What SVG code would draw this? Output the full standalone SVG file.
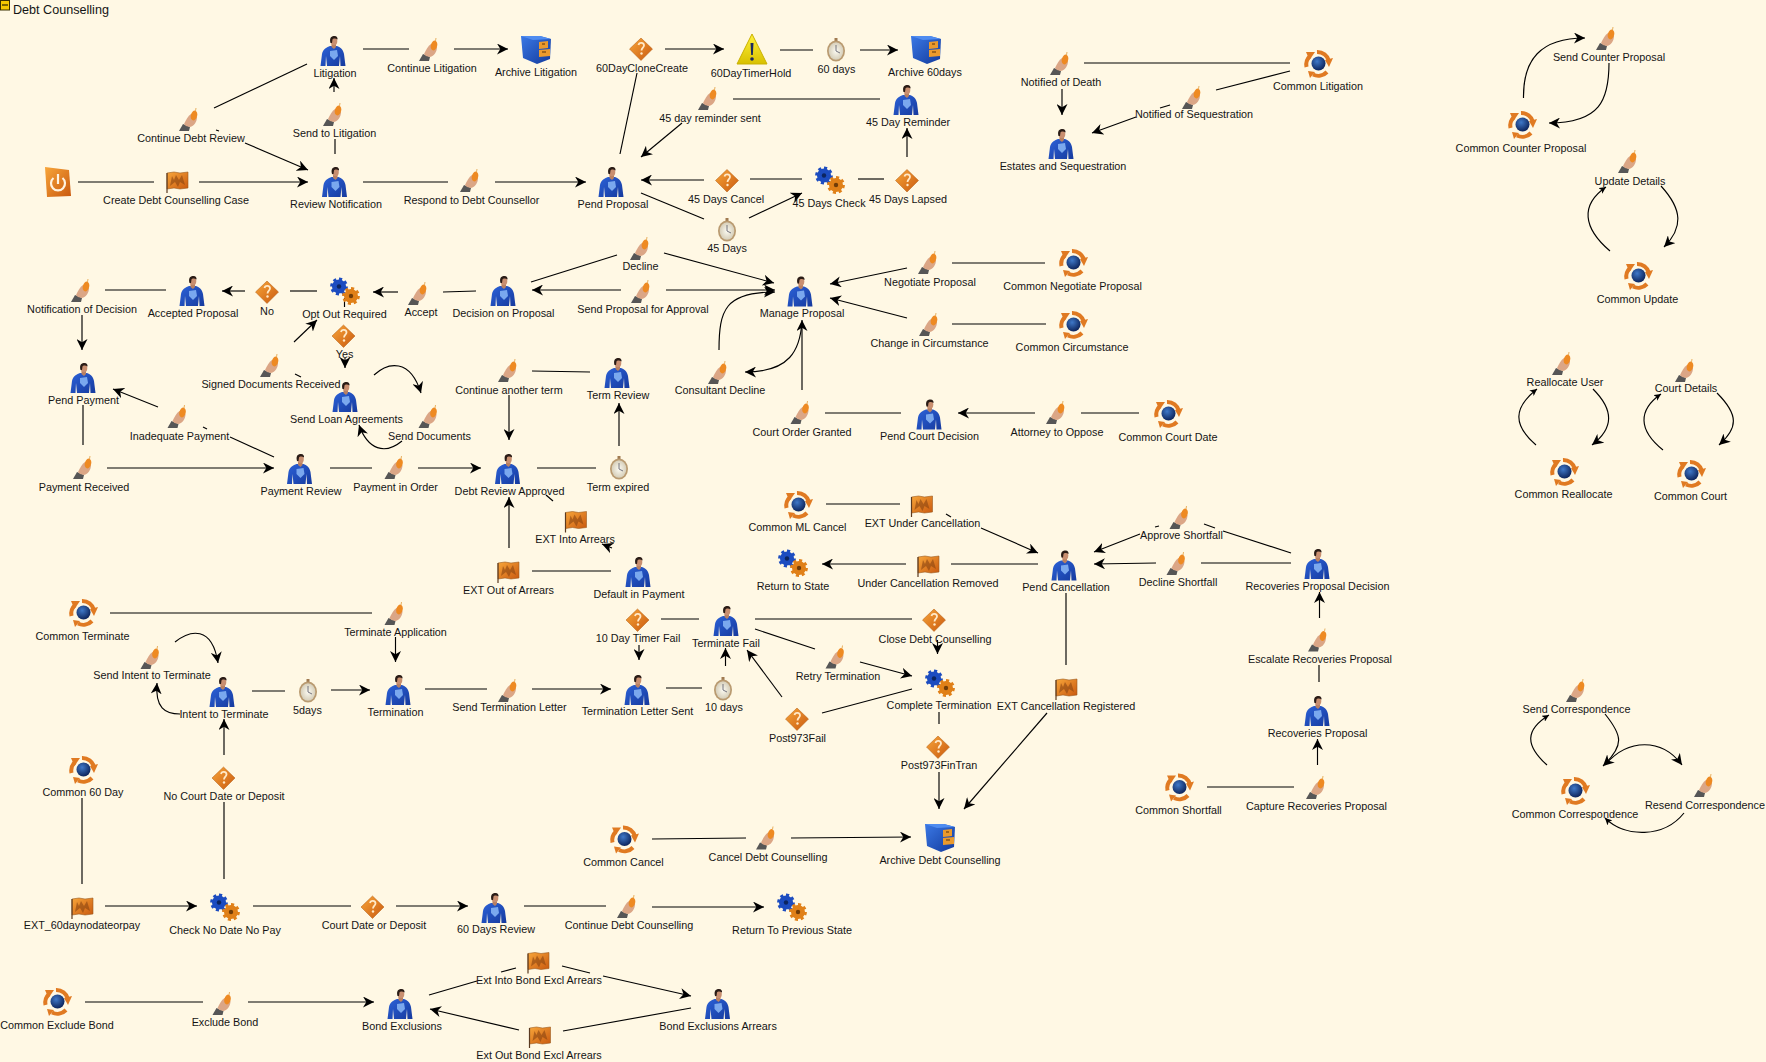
<svg xmlns="http://www.w3.org/2000/svg" width="1766" height="1062" viewBox="0 0 1766 1062">
<style>
text{font-family:"Liberation Sans",Arial,sans-serif;font-size:10.8px;fill:#141414;text-anchor:middle}
.title{font-size:12.6px;text-anchor:start}
.c{fill:none;stroke:#000;stroke-width:1.15}
.a{marker-end:url(#ah)}
.s{marker-end:url(#as)}
</style>
<defs>
<marker id="ah" markerUnits="userSpaceOnUse" markerWidth="11" markerHeight="11" refX="10" refY="5" orient="auto" viewBox="0 0 10 10"><path d="M10 5L0 0L3 5L0 10Z" fill="#000"/></marker>
<marker id="as" markerUnits="userSpaceOnUse" markerWidth="7" markerHeight="7" refX="6" refY="3" orient="auto" viewBox="0 0 6 6"><path d="M6 3L0 0L1.500 3L0 6Z" fill="#000"/></marker>
<linearGradient id="gShirt" x1="0" y1="0" x2="1" y2="1"><stop offset="0" stop-color="#2c62d8"/><stop offset="1" stop-color="#163a9e"/></linearGradient>
<linearGradient id="gOr" x1="0" y1="0" x2="1" y2="1"><stop offset="0" stop-color="#f8a63a"/><stop offset="1" stop-color="#c9590f"/></linearGradient>
<linearGradient id="gYel" x1="0" y1="0" x2="0" y2="1"><stop offset="0" stop-color="#fff23c"/><stop offset="1" stop-color="#d8c000"/></linearGradient>
<linearGradient id="gBlue" x1="0" y1="0" x2="1" y2="1"><stop offset="0" stop-color="#3b79e6"/><stop offset="1" stop-color="#123a9c"/></linearGradient>
<radialGradient id="gGlobe" cx="0.4" cy="0.35" r="0.7"><stop offset="0" stop-color="#3f78c8"/><stop offset="1" stop-color="#0a1f55"/></radialGradient>
<radialGradient id="gFace" cx="0.5" cy="0.5" r="0.6"><stop offset="0" stop-color="#fbfaf2"/><stop offset="1" stop-color="#cfc6ae"/></radialGradient>
<symbol id="person" overflow="visible">
<path d="M-12.500 15L-11 3C-10 -2 -6 -4 -3 -5L4 -5C7 -4 10 -2 11 3L12.500 15L7.500 15L7 5L6 15L-6 15L-7 5L-7.500 15Z" fill="url(#gShirt)"/>
<path d="M-3 0L4 -1L5 5L1 9L-3 5Z" fill="#7aa8ee"/>
<path d="M-1.500 -7L3 -7L3 -4L1 -2L-1.500 -4Z" fill="#b88062"/>
<ellipse cx="1" cy="-10" rx="3.300" ry="4.300" fill="#c98f70"/>
<path d="M-2.500 -8C-4 -14 -1 -15 1.500 -15C4 -15 4.800 -13 4.500 -11.500C2.500 -13 0 -12.500 -0.500 -11.500L-1 -8Z" fill="#2a1c16"/>
</symbol>
<symbol id="hand" overflow="visible">
<path d="M-10 11L-6 4L1 7L0 11Z" fill="#565656"/>
<path d="M-5 4C-3 0 -1 -4 2 -6L8 -3C8 2 5 6 1 7L-3 6Z" fill="#dba686"/>
<ellipse cx="5" cy="-4.500" rx="3.200" ry="5" fill="#ee8a22" transform="rotate(15 5 -4.500)"/>
<path d="M6.500 -9L7 -12" stroke="#e8b060" stroke-width="1" fill="none"/>
</symbol>
<symbol id="flag" overflow="visible">
<path d="M-10 -9L-3 -10L3 -9L11 -10L11 6L3 7L-3 6L-10 7Z" fill="url(#gOr)" stroke="#9a5a20" stroke-width=".6"/>
<path d="M-7 4L-5 -6L-3 -2L-1 -7L2 -2L5 -7L8 3L3 0L1 5L-2 0Z" fill="#8a4410" opacity=".6"/>
<path d="M-10 -9V11" stroke="#5a3a20" stroke-width="1.200" fill="none"/>
</symbol>
<symbol id="diamond" overflow="visible">
<path d="M0 -11L11.500 0L0 11.500L-11.500 0Z" fill="url(#gOr)" stroke="#b05a10" stroke-width=".5"/>
<path d="M-2.500 -4C-2 -7 3 -7 3 -3.500C3 -1.500 0.500 -1 0.500 1.500" fill="none" stroke="#ffe9c8" stroke-width="1.800"/>
<circle cx="0.500" cy="4.500" r="1.200" fill="#ffe9c8"/>
</symbol>
<symbol id="gears" overflow="visible">
<circle cx="-6" cy="-4.500" r="7" fill="#1c4cc0"/>
<circle cx="-6" cy="-4.500" r="7.300" fill="none" stroke="#1c4cc0" stroke-width="3.200" stroke-dasharray="3 2.700"/>
<circle cx="-6" cy="-4.500" r="2.200" fill="#0c2560"/>
<circle cx="6" cy="5" r="7" fill="#e08018"/>
<circle cx="6" cy="5" r="7.300" fill="none" stroke="#e08018" stroke-width="3.200" stroke-dasharray="3 2.700"/>
<circle cx="6" cy="5" r="2.200" fill="#703c08"/>
</symbol>
<symbol id="timer" overflow="visible">
<rect x="-1.500" y="-12" width="3" height="3" fill="#a07a50"/>
<ellipse cx="0" cy="1" rx="9" ry="10.500" fill="#b99a70"/>
<ellipse cx="0" cy="1" rx="7.300" ry="8.800" fill="url(#gFace)"/>
<path d="M0 1L0 -5M0 1L4 3" stroke="#556" stroke-width=".8" fill="none"/>
</symbol>
<symbol id="common" overflow="visible">
<path d="M-11.500 3A12 12 0 0 1 -8 -8" fill="none" stroke="#e07a22" stroke-width="4"/>
<path d="M-12 -12L-3 -12L-8.500 -4Z" fill="#e07a22"/>
<path d="M-1 -12A12 12 0 0 1 11 -3" fill="none" stroke="#e07a22" stroke-width="4"/>
<path d="M15 -6L7 -4L11 3Z" fill="#e07a22"/>
<path d="M9 8A12 12 0 0 1 -5 10.500" fill="none" stroke="#e07a22" stroke-width="4"/>
<path d="M-10 7L-8 14L-3 8Z" fill="#e07a22"/>
<circle cx="0.500" cy="-0.500" r="7" fill="url(#gGlobe)"/>
</symbol>
<symbol id="archive" overflow="visible">
<path d="M-15 -14L4 -14L15 -11L14 9L1 14L-13 8Z" fill="url(#gBlue)"/>
<path d="M-15 -14L4 -14L15 -11L-3 -10Z" fill="#4f8cf0"/>
<path d="M3 -8L12 -9L12 -2L3 -1Z" fill="#eb9a2c"/>
<path d="M3 0L14 -1L14 6L3 7Z" fill="#eb9a2c"/>
<path d="M6 -6L9 -6M6 2L10 2" stroke="#5a3008" stroke-width="1" fill="none"/>
</symbol>
<symbol id="warn" overflow="visible">
<path d="M0 -15L15 15L-15 15Z" fill="url(#gYel)" stroke="#c9b000" stroke-width="1" stroke-linejoin="round"/>
<path d="M-1.500 -6L1.500 -6L0.800 6L-0.800 6Z" fill="#1a2a60"/>
<circle cx="0" cy="10" r="1.800" fill="#1a2a60"/>
</symbol>
<symbol id="startIcon" overflow="visible">
<path d="M-13 -15L11 -12L13 14L-11 15Z" fill="url(#gOr)"/>
<path d="M-4.500 -4A7 7 0 1 0 4.500 -4" fill="none" stroke="#fff3e0" stroke-width="2.200"/>
<path d="M0 -8V2" stroke="#fff3e0" stroke-width="2.200" fill="none"/>
</symbol>
</defs>
<rect width="1766" height="1062" fill="#fff8e4"/>
<g id="frame"><rect x="0.500" y="0.500" width="9" height="9.500" fill="#f5c800" stroke="#3a3000"/><path d="M2 5H8" stroke="#000" fill="none"/><text class="title" x="13" y="14">Debt Counselling</text></g>
<g id="connectors">
<path class="c" d="M214 108L307 64"/>
<path class="c a" d="M245 143L308 170"/><path class="c" d="M216 130L219 131"/>
<path class="c" d="M335 154V139"/><path class="c a" d="M334 92V78"/>
<path class="c" d="M363 49H409"/><path class="c a" d="M454 49H508"/>
<path class="c" d="M78 182H154"/><path class="c a" d="M199 182H308"/>
<path class="c" d="M363 182H448"/><path class="c a" d="M495 182H586"/>
<path class="c" d="M476 291L443 292"/><path class="c a" d="M398 292H373"/>
<path class="c" d="M317 291H290"/><path class="c a" d="M245 291H222"/>
<path class="c" d="M166 290H105"/><path class="c a" d="M82 315V350"/>
<path class="c a" d="M294 342L317 320"/><path class="c" d="M344.500 298V307"/>
<path class="c" d="M617 255L531 282"/><path class="c a" d="M621 290H532"/>
<path class="c" d="M620 154L637 73"/><path class="c a" d="M665 49H724"/>
<path class="c" d="M780 50H813"/><path class="c a" d="M860 50H898"/>
<path class="c" d="M880 99H733"/><path class="c a" d="M682 123L641 157"/>
<path class="c a" d="M907 157V128"/><path class="c" d="M884 179H858"/>
<path class="c" d="M802 179H750"/><path class="c a" d="M704 180H641"/>
<path class="c" d="M641 193L704 219"/><path class="c a" d="M749 218L802 193"/>
<path class="c a" d="M664 253L774 283"/><path class="c a" d="M666 290H775"/>
<path class="c a" d="M719 350C719 310 725 292 775 292"/>
<path class="c a" d="M907 268L830 284"/><path class="c" d="M1045 263H952"/>
<path class="c a" d="M907 318L830 298"/><path class="c" d="M1046 324H952"/>
<path class="c a" d="M1062 89V115"/><path class="c" d="M1084 63H1290"/>
<path class="c" d="M1290 71L1216 90"/><path class="c" d="M1170 105L1160 108"/><path class="c a" d="M1136 117L1092 133"/>
<path class="c a" d="M1523.500 98C1523 60 1540 38 1585 38"/>
<path class="c a" d="M1609 63C1609 100 1600 123 1549 123"/>
<path class="c s" d="M1610 251C1583 228 1580 205 1606 187"/>
<path class="c a" d="M1661 186C1683 210 1683 228 1664 247"/>
<path class="c s" d="M1536 445C1513 425 1513 408 1537 389"/>
<path class="c a" d="M1593 389C1614 410 1614 428 1592 445"/>
<path class="c s" d="M1663 450C1638 430 1638 410 1661 394"/>
<path class="c a" d="M1717 393C1739 415 1738 428 1719 445"/>
<path class="c" d="M83 405V445"/><path class="c a" d="M158 407L113 389"/>
<path class="c" d="M274 457L230 437"/><path class="c" d="M203 427L207 429"/>
<path class="c a" d="M107 468H274"/><path class="c" d="M330 468H372"/><path class="c a" d="M418 468H481"/>
<path class="c a" d="M374 375C388 362 410 358 421 393"/>
<path class="c a" d="M402 441C385 455 368 450 359 425"/>
<path class="c" d="M295 374L301 377"/>
<path class="c a" d="M345 358V368"/>
<path class="c" d="M590 372L532 371"/><path class="c a" d="M509 395V440"/>
<path class="c a" d="M619 446V403"/><path class="c" d="M537 468H596"/>
<path class="c a" d="M509 548V497"/><path class="c" d="M611 571H532"/>
<path class="c a" d="M612 548L602 544"/><path class="c" d="M553 501L546 495"/>
<path class="c" d="M110 613H372"/><path class="c a" d="M395.500 637V662"/>
<path class="c a" d="M175 642C190 630 212 625 218 663"/>
<path class="c a" d="M180 714C165 714 155 708 157 683"/>
<path class="c" d="M252 691H285"/><path class="c a" d="M331 690H370"/>
<path class="c" d="M425 689H487"/><path class="c a" d="M532 689H611"/>
<path class="c a" d="M639 645V660"/>
<path class="c a" d="M802 322C800 350 790 372 745 372"/>
<path class="c a" d="M802 390V320"/>
<path class="c" d="M901 413H825"/><path class="c a" d="M1035 413H958"/><path class="c" d="M1139 413H1081"/>
<path class="c" d="M826 504H900"/><path class="c a" d="M981 528L1038 553"/><path class="c" d="M946 514L951 517"/>
<path class="c" d="M1038 564H951"/><path class="c a" d="M906 564H822"/>
<path class="c" d="M1066 593V665"/>
<path class="c" d="M661 619H699"/><path class="c" d="M755 619H912"/>
<path class="c a" d="M937.500 640V654"/>
<path class="c" d="M755 629L815 649"/>
<path class="c a" d="M860 662L912 676"/>
<path class="c a" d="M782 697L747 650"/>
<path class="c a" d="M725.500 666V648"/>
<path class="c" d="M666 688H702"/>
<path class="c" d="M822 713L912 689"/>
<path class="c" d="M939 712V724"/>
<path class="c a" d="M939 772V809"/>
<path class="c a" d="M1047 713L964 809"/>
<path class="c" d="M652 839L746 838"/><path class="c a" d="M791 838L911 837"/>
<path class="c" d="M524 906H606"/><path class="c a" d="M652 907H764"/>
<path class="c" d="M562 966L590 973"/><path class="c a" d="M603 976L691 996"/>
<path class="c" d="M691 1008L563 1031"/>
<path class="c a" d="M519 1030L430 1009"/>
<path class="c" d="M429 995L477 981"/><path class="c" d="M501 972L516 968"/>
<path class="c" d="M1291 553L1223 531"/><path class="c" d="M1204 524L1215 528"/>
<path class="c a" d="M1140 534L1094 552"/><path class="c" d="M1155 527L1159 526"/>
<path class="c" d="M1291 563H1201"/><path class="c a" d="M1156 563L1094 564"/>
<path class="c a" d="M1319.500 618V592"/><path class="c" d="M1319 682V665"/>
<path class="c a" d="M1317.500 765V739"/><path class="c" d="M1207 787H1294"/>
<path class="c s" d="M1547 765C1525 745 1525 730 1549 715"/>
<path class="c a" d="M1605 714C1622 735 1625 745 1603 766"/>
<path class="c a" d="M1605 765C1628 738 1662 738 1682 765"/>
<path class="c s" d="M1684 813C1664 838 1625 838 1605 818"/>
<path class="c" d="M82 798V884"/><path class="c a" d="M105 906H197"/>
<path class="c" d="M224 879V802"/><path class="c a" d="M224 755V719"/>
<path class="c" d="M253 906H351"/><path class="c a" d="M396 906H468"/>
<path class="c" d="M85 1002H203"/><path class="c a" d="M248 1002H374"/>
</g>
<g id="litigation"><use href="#person" x="333" y="51"/><text x="335" y="77">Litigation</text></g>
<g id="continue-litigation"><use href="#hand" x="429" y="50"/><text x="432" y="72">Continue Litigation</text></g>
<g id="archive-litigation"><use href="#archive" x="536" y="50"/><text x="536" y="76">Archive Litigation</text></g>
<g id="continue-debt-review"><use href="#hand" x="189" y="120"/><text x="191" y="142">Continue Debt Review</text></g>
<g id="send-to-litigation"><use href="#hand" x="333" y="115"/><text x="334.500" y="137">Send to Litigation</text></g>
<g id="start-node"><use href="#startIcon" x="58" y="182"/></g>
<g id="create-case"><use href="#flag" x="177" y="182"/><text x="176" y="204">Create Debt Counselling Case</text></g>
<g id="review-notification"><use href="#person" x="334.500" y="182"/><text x="336" y="208">Review Notification</text></g>
<g id="respond"><use href="#hand" x="470" y="181"/><text x="471.500" y="204">Respond to Debt Counsellor</text></g>
<g id="notification-decision"><use href="#hand" x="81" y="291"/><text x="82" y="313">Notification of Decision</text></g>
<g id="accepted-proposal"><use href="#person" x="192" y="291"/><text x="193" y="317">Accepted Proposal</text></g>
<g id="no"><use href="#diamond" x="267" y="292"/><text x="267" y="315">No</text></g>
<g id="opt-out"><use href="#gears" x="345" y="291"/><text x="344.500" y="318">Opt Out Required</text></g>
<g id="accept"><use href="#hand" x="418" y="294"/><text x="421" y="316">Accept</text></g>
<g id="decision-on-proposal"><use href="#person" x="503" y="291"/><text x="503.500" y="317">Decision on Proposal</text></g>
<g id="clone-create"><use href="#diamond" x="641" y="49"/><text x="642" y="72">60DayCloneCreate</text></g>
<g id="timer-hold"><use href="#warn" x="752" y="49"/><text x="751" y="77">60DayTimerHold</text></g>
<g id="t60days"><use href="#timer" x="836" y="50"/><text x="836.500" y="73">60 days</text></g>
<g id="archive-60days"><use href="#archive" x="926" y="50"/><text x="925" y="76">Archive 60days</text></g>
<g id="reminder-sent"><use href="#hand" x="708" y="99"/><text x="710" y="122">45 day reminder sent</text></g>
<g id="day-reminder"><use href="#person" x="906" y="100"/><text x="908" y="126">45 Day Reminder</text></g>
<g id="pend-proposal"><use href="#person" x="611" y="182"/><text x="613" y="208">Pend Proposal</text></g>
<g id="days-cancel"><use href="#diamond" x="727" y="180.500"/><text x="726" y="203">45 Days Cancel</text></g>
<g id="days-check"><use href="#gears" x="830" y="180"/><text x="829" y="207">45 Days Check</text></g>
<g id="days-lapsed"><use href="#diamond" x="907" y="180.500"/><text x="908" y="203">45 Days Lapsed</text></g>
<g id="t45days"><use href="#timer" x="727" y="230"/><text x="727" y="252">45 Days</text></g>
<g id="decline"><use href="#hand" x="640" y="249"/><text x="640.500" y="270">Decline</text></g>
<g id="send-proposal"><use href="#hand" x="641" y="292"/><text x="643" y="313">Send Proposal for Approval</text></g>
<g id="manage-proposal"><use href="#person" x="800" y="291.500"/><text x="802" y="317">Manage Proposal</text></g>
<g id="negotiate-proposal"><use href="#hand" x="928" y="263"/><text x="930" y="286">Negotiate Proposal</text></g>
<g id="common-negotiate"><use href="#common" x="1073" y="263"/><text x="1072.500" y="290">Common Negotiate Proposal</text></g>
<g id="change-circumstance"><use href="#hand" x="929" y="325"/><text x="929.500" y="347">Change in Circumstance</text></g>
<g id="common-circumstance"><use href="#common" x="1073" y="325"/><text x="1072" y="351">Common Circumstance</text></g>
<g id="notified-death"><use href="#hand" x="1060" y="64"/><text x="1061" y="86">Notified of Death</text></g>
<g id="notified-seq"><use href="#hand" x="1192" y="98"/><text x="1194" y="118">Notified of Sequestration</text></g>
<g id="estates"><use href="#person" x="1061" y="144"/><text x="1063" y="170">Estates and Sequestration</text></g>
<g id="common-litigation"><use href="#common" x="1318" y="64"/><text x="1318" y="90">Common Litigation</text></g>
<g id="send-counter"><use href="#hand" x="1606" y="39"/><text x="1609" y="61">Send Counter Proposal</text></g>
<g id="common-counter"><use href="#common" x="1522" y="125"/><text x="1521" y="152">Common Counter Proposal</text></g>
<g id="update-details"><use href="#hand" x="1628" y="162"/><text x="1630" y="185">Update Details</text></g>
<g id="common-update"><use href="#common" x="1638" y="276"/><text x="1637.500" y="303">Common Update</text></g>
<g id="reallocate-user"><use href="#hand" x="1562" y="364"/><text x="1565" y="386">Reallocate User</text></g>
<g id="common-reallocate"><use href="#common" x="1564" y="472"/><text x="1563.500" y="498">Common Reallocate</text></g>
<g id="court-details"><use href="#hand" x="1685" y="371"/><text x="1686" y="392">Court Details</text></g>
<g id="common-court"><use href="#common" x="1691" y="474"/><text x="1690.500" y="500">Common Court</text></g>
<g id="pend-payment"><use href="#person" x="83" y="378"/><text x="83.500" y="404">Pend Payment</text></g>
<g id="yes"><use href="#diamond" x="343.500" y="336"/><text x="344.500" y="358">Yes</text></g>
<g id="signed-docs"><use href="#hand" x="270" y="366"/><text x="271" y="388">Signed Documents Received</text></g>
<g id="send-loan"><use href="#person" x="345" y="397"/><text x="346.500" y="423">Send Loan Agreements</text></g>
<g id="send-documents"><use href="#hand" x="428.500" y="417"/><text x="429.500" y="440">Send Documents</text></g>
<g id="continue-term"><use href="#hand" x="508" y="371"/><text x="509" y="394">Continue another term</text></g>
<g id="term-review"><use href="#person" x="617" y="373"/><text x="618" y="399">Term Review</text></g>
<g id="inadequate"><use href="#hand" x="177.500" y="417"/><text x="179.500" y="440">Inadequate Payment</text></g>
<g id="payment-received"><use href="#hand" x="83" y="468"/><text x="84" y="491">Payment Received</text></g>
<g id="payment-review"><use href="#person" x="299.500" y="469"/><text x="301" y="495">Payment Review</text></g>
<g id="payment-order"><use href="#hand" x="394.500" y="468"/><text x="395.500" y="491">Payment in Order</text></g>
<g id="debt-review"><use href="#person" x="507.500" y="469"/><text x="509.500" y="495">Debt Review Approved</text></g>
<g id="term-expired"><use href="#timer" x="619" y="468"/><text x="618" y="491">Term expired</text></g>
<g id="ext-into"><use href="#flag" x="575.500" y="521.500"/><text x="575" y="543">EXT Into Arrears</text></g>
<g id="ext-out"><use href="#flag" x="508" y="572"/><text x="508.500" y="594">EXT Out of Arrears</text></g>
<g id="default-payment"><use href="#person" x="638" y="572"/><text x="639" y="598">Default in Payment</text></g>
<g id="timer-fail"><use href="#diamond" x="637.500" y="620"/><text x="638" y="642">10 Day Timer Fail</text></g>
<g id="common-terminate"><use href="#common" x="83" y="613"/><text x="82.500" y="640">Common Terminate</text></g>
<g id="terminate-app"><use href="#hand" x="394.500" y="614"/><text x="395.500" y="636">Terminate Application</text></g>
<g id="send-intent"><use href="#hand" x="150.500" y="658"/><text x="152" y="679">Send Intent to Terminate</text></g>
<g id="intent"><use href="#person" x="222" y="692"/><text x="224" y="718">Intent to Terminate</text></g>
<g id="t5days"><use href="#timer" x="308" y="691"/><text x="307.500" y="714">5days</text></g>
<g id="termination"><use href="#person" x="398" y="690"/><text x="395.500" y="716">Termination</text></g>
<g id="send-letter"><use href="#hand" x="508" y="691"/><text x="509.500" y="711">Send Termination Letter</text></g>
<g id="letter-sent"><use href="#person" x="637" y="690"/><text x="637.500" y="715">Termination Letter Sent</text></g>
<g id="consultant-decline"><use href="#hand" x="718" y="373"/><text x="720" y="394">Consultant Decline</text></g>
<g id="court-order"><use href="#hand" x="800.500" y="413"/><text x="802" y="436">Court Order Granted</text></g>
<g id="pend-court"><use href="#person" x="929" y="414.500"/><text x="929.500" y="440">Pend Court Decision</text></g>
<g id="attorney"><use href="#hand" x="1056" y="413"/><text x="1057" y="436">Attorney to Oppose</text></g>
<g id="common-court-date"><use href="#common" x="1168" y="414"/><text x="1168" y="441">Common Court Date</text></g>
<g id="common-ml"><use href="#common" x="798" y="505"/><text x="797.500" y="531">Common ML Cancel</text></g>
<g id="ext-under"><use href="#flag" x="921.500" y="506"/><text x="922.500" y="527">EXT Under Cancellation</text></g>
<g id="return-state"><use href="#gears" x="793" y="563"/><text x="793" y="590">Return to State</text></g>
<g id="under-removed"><use href="#flag" x="928" y="566"/><text x="928" y="587">Under Cancellation Removed</text></g>
<g id="pend-cancellation"><use href="#person" x="1064" y="565.500"/><text x="1066" y="591">Pend Cancellation</text></g>
<g id="approve-shortfall"><use href="#hand" x="1179.500" y="518"/><text x="1181.500" y="539">Approve Shortfall</text></g>
<g id="decline-shortfall"><use href="#hand" x="1176.500" y="564"/><text x="1178" y="586">Decline Shortfall</text></g>
<g id="rec-decision"><use href="#person" x="1317" y="564"/><text x="1317.500" y="590">Recoveries Proposal Decision</text></g>
<g id="escalate"><use href="#hand" x="1318" y="640.500"/><text x="1320" y="663">Escalate Recoveries Proposal</text></g>
<g id="rec-proposal"><use href="#person" x="1317" y="711"/><text x="1317.500" y="737">Recoveries Proposal</text></g>
<g id="capture"><use href="#hand" x="1316" y="788"/><text x="1316.500" y="810">Capture Recoveries Proposal</text></g>
<g id="common-shortfall"><use href="#common" x="1179" y="787.500"/><text x="1178.500" y="814">Common Shortfall</text></g>
<g id="send-corr"><use href="#hand" x="1576" y="691"/><text x="1576.500" y="713">Send Correspondence</text></g>
<g id="common-corr"><use href="#common" x="1575" y="791"/><text x="1575" y="818">Common Correspondence</text></g>
<g id="resend-corr"><use href="#hand" x="1704" y="786"/><text x="1705" y="809">Resend Correspondence</text></g>
<g id="terminate-fail"><use href="#person" x="726" y="621"/><text x="726" y="647">Terminate Fail</text></g>
<g id="close-debt"><use href="#diamond" x="934" y="620"/><text x="935" y="643">Close Debt Counselling</text></g>
<g id="complete"><use href="#gears" x="940" y="683"/><text x="939" y="709">Complete Termination</text></g>
<g id="retry"><use href="#hand" x="835.500" y="657.500"/><text x="838" y="680">Retry Termination</text></g>
<g id="post-fail"><use href="#diamond" x="797" y="719"/><text x="797.500" y="742">Post973Fail</text></g>
<g id="t10days"><use href="#timer" x="723" y="689"/><text x="724" y="711">10 days</text></g>
<g id="fin-tran"><use href="#diamond" x="938" y="747"/><text x="939" y="769">Post973FinTran</text></g>
<g id="ext-cancel-reg"><use href="#flag" x="1066" y="689"/><text x="1066" y="710">EXT Cancellation Registered</text></g>
<g id="common-cancel"><use href="#common" x="624" y="839.500"/><text x="623.500" y="866">Common Cancel</text></g>
<g id="cancel-debt"><use href="#hand" x="766" y="838.500"/><text x="768" y="861">Cancel Debt Counselling</text></g>
<g id="archive-debt"><use href="#archive" x="940" y="838"/><text x="940" y="864">Archive Debt Counselling</text></g>
<g id="common-60"><use href="#common" x="83" y="770"/><text x="83" y="796">Common 60 Day</text></g>
<g id="no-court"><use href="#diamond" x="223.500" y="778"/><text x="224" y="800">No Court Date or Deposit</text></g>
<g id="ext-60"><use href="#flag" x="82" y="908"/><text x="82" y="929">EXT_60daynodateorpay</text></g>
<g id="check-no-date"><use href="#gears" x="225" y="907"/><text x="225" y="934">Check No Date No Pay</text></g>
<g id="court-date"><use href="#diamond" x="372.500" y="907"/><text x="374" y="929">Court Date or Deposit</text></g>
<g id="days-60-review"><use href="#person" x="494" y="908"/><text x="496" y="933">60 Days Review</text></g>
<g id="continue-debt"><use href="#hand" x="627" y="907"/><text x="629" y="929">Continue Debt Counselling</text></g>
<g id="return-prev"><use href="#gears" x="792" y="907"/><text x="792" y="934">Return To Previous State</text></g>
<g id="common-exclude"><use href="#common" x="57" y="1002"/><text x="57" y="1029">Common Exclude Bond</text></g>
<g id="exclude-bond"><use href="#hand" x="222.500" y="1004"/><text x="225" y="1026">Exclude Bond</text></g>
<g id="bond-exclusions"><use href="#person" x="400" y="1004"/><text x="402" y="1030">Bond Exclusions</text></g>
<g id="ext-into-bond"><use href="#flag" x="538" y="962.500"/><text x="539" y="984">Ext Into Bond Excl Arrears</text></g>
<g id="ext-out-bond"><use href="#flag" x="539.500" y="1037"/><text x="539" y="1059">Ext Out Bond Excl Arrears</text></g>
<g id="bond-arrears"><use href="#person" x="717.500" y="1004"/><text x="718" y="1030">Bond Exclusions Arrears</text></g>
</svg>
